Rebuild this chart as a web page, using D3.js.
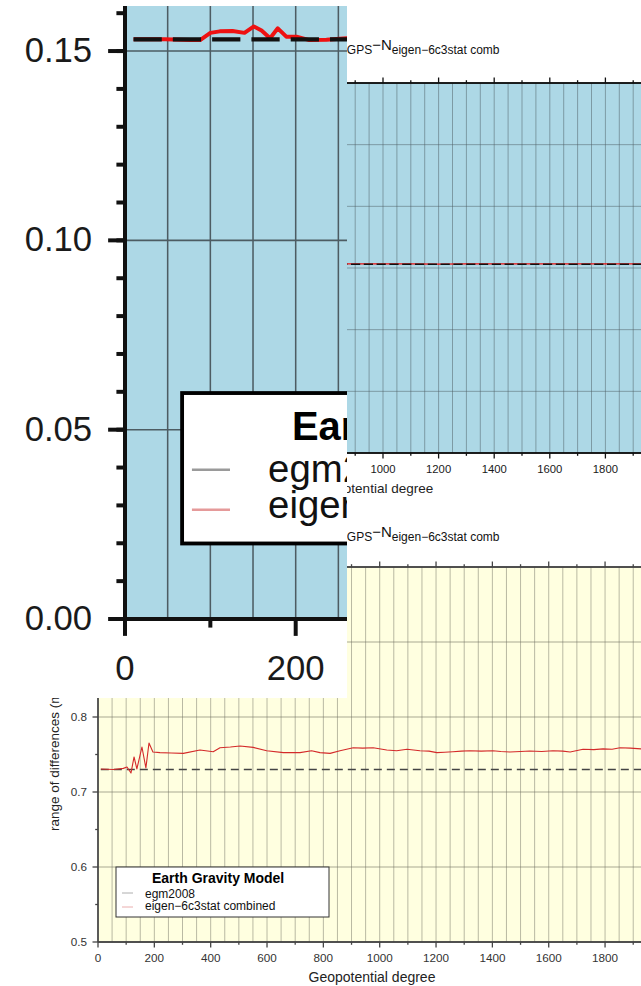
<!DOCTYPE html>
<html><head><meta charset="utf-8">
<script src="https://cdn.jsdelivr.net/npm/d3@7"></script>
<style>
body{margin:0;background:#fff}
svg{display:block}
text{font-family:"Liberation Sans",Arial,Helvetica,sans-serif}
</style>
</head><body>
<svg id="c" width="641" height="986"></svg>
<script>
// ---------- data ----------
// panel 1 (light blue): N_GPS - N_model statistic
const stdDeg   = [10, 47, 76, 88, 100, 111, 126, 140, 151, 160, 170, 179, 189, 201, 216, 236, 260, 300, 400, 500, 600, 700, 800, 900, 1000, 1100, 1200, 1300, 1400, 1500, 1600, 1700, 1800, 1900, 2000];
const stdEigen = [0.1531, 0.1531, 0.1529, 0.1529, 0.1548, 0.1552, 0.1553, 0.1548, 0.1565, 0.1554, 0.1534, 0.1560, 0.1538, 0.1538, 0.1529, 0.1530, 0.1534, 0.1533, 0.1534, 0.1533, 0.1534, 0.1533, 0.1533, 0.1534, 0.1533, 0.1533, 0.1532, 0.1533, 0.1533, 0.1533, 0.1533, 0.1534, 0.1534, 0.1534, 0.1534];
const stdEgmDeg = [10, 2000];
const stdEgm    = [0.1531, 0.1531];

// panel 2 (light yellow): range of differences
const rngDeg   = [10, 54, 90, 103, 117, 128, 138, 156, 170, 181, 195, 220, 260, 303, 362, 409, 433, 470, 504, 551, 599, 658, 717, 758, 788, 824, 859, 906, 940, 977, 1025, 1060, 1097, 1143, 1175, 1203, 1230, 1260, 1290, 1320, 1360, 1402, 1430, 1462, 1500, 1533, 1575, 1615, 1650, 1676, 1722, 1760, 1793, 1825, 1853, 1890, 1928, 2000];
const rngEigen = [0.7307, 0.7300, 0.7315, 0.7333, 0.7253, 0.7467, 0.7307, 0.7600, 0.7320, 0.7653, 0.7533, 0.7525, 0.7520, 0.7515, 0.7560, 0.7537, 0.7590, 0.7600, 0.7613, 0.7595, 0.7550, 0.7525, 0.7525, 0.7550, 0.7525, 0.7515, 0.7550, 0.7590, 0.7585, 0.7590, 0.7560, 0.7550, 0.7570, 0.7550, 0.7545, 0.7525, 0.7530, 0.7537, 0.7545, 0.7550, 0.7545, 0.7550, 0.7540, 0.7533, 0.7540, 0.7546, 0.7540, 0.7550, 0.7545, 0.7533, 0.7570, 0.7565, 0.7575, 0.7570, 0.7590, 0.7585, 0.7575, 0.7570];
const rngEgmDeg = [10, 2000];
const rngEgm    = [0.7300, 0.7300];

const xMajorTicks = [0, 200, 400, 600, 800, 1000, 1200, 1400, 1600, 1800, 2000];
const xMinorTicks = [100, 300, 500, 700, 900, 1100, 1300, 1500, 1700, 1900];
const stdYTicks = [0, 0.05, 0.10, 0.15, 0.20, 0.25, 0.30];
const rngYTicks = [0.5, 0.6, 0.7, 0.8, 0.9, 1.0];
const rngYMinor = [0.55, 0.65, 0.75, 0.85, 0.95];

const legendTitle = "Earth Gravity Model";
const legendItems = ["egm2008", "eigen\u22126c3stat combined"];
const xLabel = "Geopotential degree";
const yLabelRange = "range of differences (m)";

// ---------- drawing ----------
const svg = d3.select("#c");
svg.append("rect").attr("width", 641).attr("height", 986).attr("fill", "#fff");
const defs = svg.append("defs");
function clip(id, x, y, w, h) {
  defs.append("clipPath").attr("id", id).append("rect")
    .attr("x", x).attr("y", y).attr("width", w).attr("height", h);
  return "url(#" + id + ")";
}

// view: which labels / legend are visible in this particular crop
function drawPanel(root, cfg, view) {
  const x = d3.scaleLinear().domain([0, 2000]).range([0, cfg.W]);
  const y = d3.scaleLinear().domain(cfg.yDomain).range([cfg.H, 0]);

  root.append("rect").attr("width", cfg.W).attr("height", cfg.H).attr("fill", cfg.bg);
  root.append("g").selectAll("line").data(d3.range(50, 2001, 50)).join("line")
    .attr("x1", d => x(d)).attr("x2", d => x(d)).attr("y1", 0).attr("y2", cfg.H)
    .attr("stroke", cfg.gridV).attr("stroke-width", cfg.gridW);
  root.append("g").selectAll("line").data(cfg.yGrid).join("line")
    .attr("x1", 0).attr("x2", cfg.W).attr("y1", d => y(d)).attr("y2", d => y(d))
    .attr("stroke", cfg.gridH).attr("stroke-width", cfg.gridW);

  const line = d3.line().x(d => x(d[0])).y(d => y(d[1]));
  const red = d3.zip(cfg.redDeg, cfg.redVal);
  const dash = d3.zip(cfg.dashDeg, cfg.dashVal);
  const drawRed = () => root.append("path").datum(red).attr("d", line).attr("fill", "none")
    .attr("stroke", cfg.redColor).attr("stroke-width", cfg.redW).attr("stroke-linejoin", "round");
  const drawDash = () => root.append("path").datum(dash).attr("d", line).attr("fill", "none")
    .attr("stroke", cfg.dashColor).attr("stroke-width", cfg.dashW).attr("stroke-dasharray", cfg.dashArray);
  if (cfg.redFirst) { drawRed(); drawDash(); } else { drawDash(); drawRed(); }

  function style(g) {
    g.attr("font-family", null).attr("font-size", null);
    g.select(".domain").attr("stroke", cfg.axisColor).attr("stroke-width", cfg.axisW);
    g.selectAll(".tick line").attr("stroke", cfg.axisColor).attr("stroke-width", cfg.axisW);
    g.selectAll(".tick text").attr("fill", cfg.textColor).attr("font-size", cfg.tickFont);
  }
  const bMaj = root.append("g").attr("transform", `translate(0,${cfg.H})`)
    .call(d3.axisBottom(x).tickValues(xMajorTicks).tickSize(5.5).tickSizeOuter(0).offset(0)
      .tickPadding(cfg.padB).tickFormat(d3.format("d")));
  style(bMaj);
  bMaj.selectAll(".tick text").filter(d => !view.xShow(d)).remove();
  const bMin = root.append("g").attr("transform", `translate(0,${cfg.H})`)
    .call(d3.axisBottom(x).tickValues(xMinorTicks).tickSize(2.8).tickSizeOuter(0).offset(0).tickFormat(""));
  style(bMin);
  bMin.selectAll(".tick text").remove();
  const tMaj = root.append("g")
    .call(d3.axisTop(x).tickValues(xMajorTicks).tickSize(5.5).tickSizeOuter(0).offset(0).tickFormat(""));
  style(tMaj);
  tMaj.selectAll(".tick text").remove();
  const tMin = root.append("g")
    .call(d3.axisTop(x).tickValues(xMinorTicks).tickSize(2.8).tickSizeOuter(0).offset(0).tickFormat(""));
  style(tMin);
  tMin.selectAll(".tick text").remove();
  const lMaj = root.append("g")
    .call(d3.axisLeft(y).tickValues(cfg.yMajor).tickSize(5.5).tickSizeOuter(0).offset(0)
      .tickPadding(cfg.padL).tickFormat(d3.format(cfg.yFmt)));
  style(lMaj);
  lMaj.selectAll(".tick text").filter(d => !view.yShow(d)).remove();
  const lMin = root.append("g")
    .call(d3.axisLeft(y).tickValues(cfg.yMinor).tickSize(2.8).tickSizeOuter(0).offset(0).tickFormat(""));
  style(lMin);
  lMin.selectAll(".tick text").remove();

  if (view.legend) {
    const L = cfg.legend;
    const lg = root.append("g").attr("transform", `translate(${L.x},${L.y})`);
    lg.append("rect").attr("width", 213).attr("height", L.h).attr("fill", "#fff")
      .attr("stroke", L.stroke).attr("stroke-width", L.sw);
    lg.append("text").attr("x", L.tx).attr("y", L.ty).attr("font-size", L.titleFont)
      .attr("font-weight", "bold").attr("fill", "#000").text(legendTitle);
    const itemColors = ["#9a9a9a", "#e59a9a"];
    legendItems.forEach((t, i) => {
      lg.append("line").attr("x1", L.lx1).attr("x2", L.lx2)
        .attr("y1", L.ly[i]).attr("y2", L.ly[i]).attr("stroke", itemColors[i]).attr("stroke-width", 0.8);
      lg.append("text").attr("x", L.ix).attr("y", L.iy[i]).attr("font-size", L.itemFont)
        .attr("fill", "#111").text(t);
    });
  }
  return { x, y };
}

const blueCfg = {
  W: 556, H: 370, yDomain: [0, 0.3], bg: "#add8e6",
  gridV: "#4d5c63", gridH: "#4d5c63", gridW: 0.5, yGrid: [0.05, 0.10, 0.15, 0.20, 0.25],
  redDeg: stdDeg, redVal: stdEigen, dashDeg: stdEgmDeg, dashVal: stdEgm,
  redColor: "#ee1111", redW: 1.3, dashColor: "#111", dashW: 1.4, dashArray: "9.2,3.6", redFirst: true,
  axisColor: "#111", axisW: 1.3, textColor: "#1a1a1a", tickFont: 11.3, padB: 6.5, padL: 5.2,
  yMajor: stdYTicks, yMinor: d3.range(0, 0.3001, 0.01), yFmt: ".2f",
  legend: { x: 18.6, y: 296.4, h: 49, stroke: "#000", sw: 1.25, tx: 35.8, ty: 15.3, titleFont: 13,
    ix: 28, iy: [29, 40.7], itemFont: 12.5, lx1: 3.2, lx2: 15.6, ly: [25, 38] }
};
const yellowCfg = {
  W: 563.4, H: 375, yDomain: [0.5, 1.0], bg: "#ffffe0",
  gridV: "#8a8a78", gridH: "#6e6e60", gridW: 0.6, yGrid: [0.6, 0.7, 0.8, 0.9],
  redDeg: rngDeg, redVal: rngEigen, dashDeg: rngEgmDeg, dashVal: rngEgm,
  redColor: "#d42a2a", redW: 1.1, dashColor: "#444", dashW: 1.3, dashArray: "8,5", redFirst: false,
  axisColor: "#444", axisW: 1.3, textColor: "#333", tickFont: 11.7, padB: 6.5, padL: 5.5,
  yMajor: rngYTicks, yMinor: rngYMinor, yFmt: ".1f",
  legend: { x: 18, y: 300, h: 50, stroke: "#333", sw: 1, tx: 36, ty: 16, titleFont: 14,
    ix: 29, iy: [31, 43], itemFont: 12, lx1: 6, lx2: 17, ly: [26, 40] }
};

function titleText(sel, x, y) {
  sel.append("text").attr("x", x).attr("y", y).attr("fill", "#111")
    .call(t => {
      t.append("tspan").attr("font-size", 15).text("N");
      t.append("tspan").attr("font-size", 12).attr("dy", 3.5).text("GPS");
      t.append("tspan").attr("font-size", 15).attr("dy", -3.5).text("\u2212N");
      t.append("tspan").attr("font-size", 12).attr("dy", 3.5).text("eigen\u22126c3stat comb");
    });
}

// bottom: yellow panel (full width)
const yw = svg.append("g");
titleText(yw, 336, 537);
const yp = yw.append("g").attr("transform", "translate(98,567)");
drawPanel(yp, yellowCfg, { xShow: d => d <= 1800, yShow: d => d <= 0.8, legend: true });
yw.append("text").attr("x", 372).attr("y", 982).attr("text-anchor", "middle")
  .attr("font-size", 14).attr("fill", "#222").text(xLabel);
yw.append("text").attr("transform", "translate(59,831) rotate(-90)").attr("text-anchor", "start")
  .attr("font-size", 13.5).attr("fill", "#222").text(yLabelRange);

// top-right: blue panel at normal scale
const tr = svg.append("g").attr("clip-path", clip("cTR", 347, 0, 294, 515));
tr.append("rect").attr("x", 347).attr("y", 0).attr("width", 294).attr("height", 515).attr("fill", "#fff");
titleText(tr, 336, 50);
const bp = tr.append("g").attr("transform", "translate(105,83)");
drawPanel(bp, blueCfg, { xShow: d => d >= 1000 && d <= 1800, yShow: d => false, legend: false });
tr.append("text").attr("x", 372).attr("y", 493).attr("text-anchor", "middle")
  .attr("font-size", 13.5).attr("fill", "#222").text(xLabel);

// top-left: enlarged view of the blue panel
svg.append("rect").attr("x", 0).attr("y", 0).attr("width", 347).attr("height", 698).attr("fill", "#fff");
const tl = svg.append("g").attr("clip-path", clip("cTL", 0, 6, 347, 692));
const zp = tl.append("g").attr("transform", "translate(125,-516.9) scale(3.07)");
drawPanel(zp, blueCfg, { xShow: d => d <= 200, yShow: d => d <= 0.15, legend: true });
</script>
</body></html>
